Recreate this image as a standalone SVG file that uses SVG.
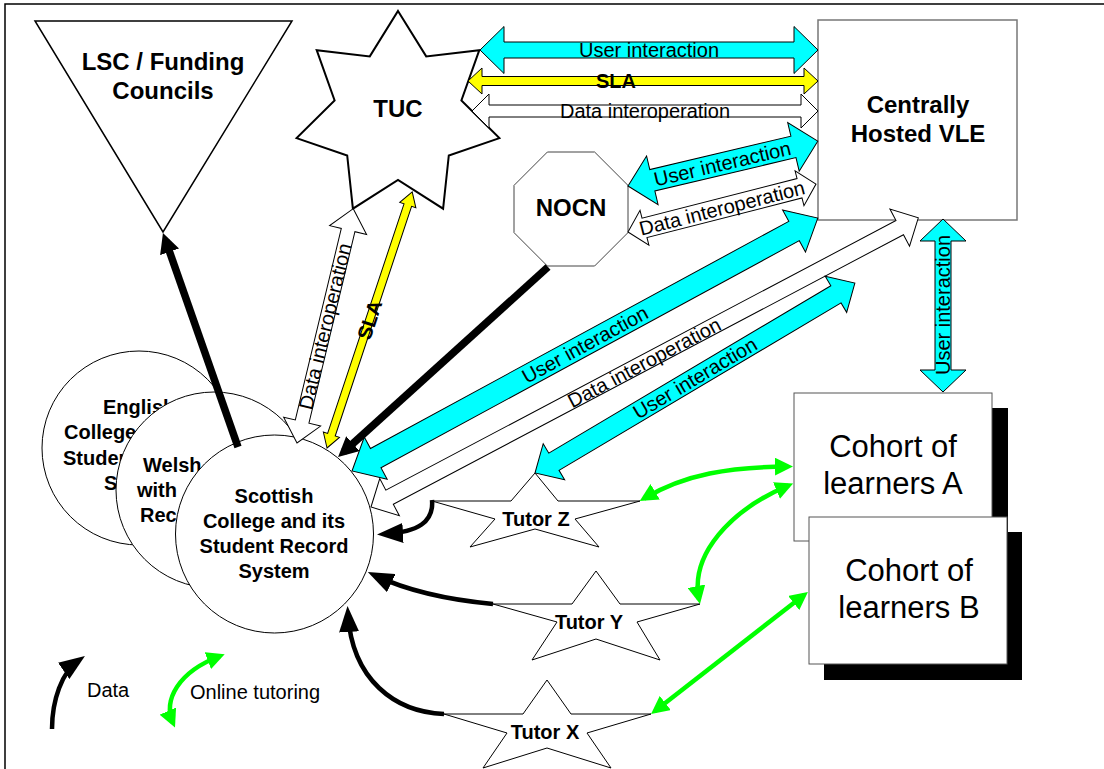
<svg xmlns="http://www.w3.org/2000/svg" width="1104" height="769" viewBox="0 0 1104 769">
<style>
text{font-family:"Liberation Sans",Arial,sans-serif;fill:#000}
.t24{font-size:24px;font-weight:bold}
.t20b{font-size:20px;font-weight:bold}
.t20{font-size:20px}
.t31{font-size:31px}
.node{fill:#fff;stroke:#000;stroke-width:1}
.cy{fill:#00ffff;stroke:#000;stroke-width:1}
.ye{fill:#ffff00;stroke:#000;stroke-width:1}
.wh{fill:#fff;stroke:#000;stroke-width:1}
.data{fill:none;stroke:#000;stroke-width:4.5}
.thick{fill:none;stroke:#000;stroke-width:7.5}
.grn{fill:none;stroke:#00ff00;stroke-width:4.5}
</style>
<defs>
<marker id="mBlk" markerUnits="userSpaceOnUse" markerWidth="20" markerHeight="20" viewBox="0 0 20 20" refX="12" refY="10" orient="auto"><path d="M0,0 L20,10 L0,20 z" fill="#000"/></marker>
<marker id="mData" markerUnits="userSpaceOnUse" markerWidth="26" markerHeight="20" viewBox="0 0 26 20" refX="18" refY="10" orient="auto"><path d="M0,0 L26,10 L0,20 z" fill="#000"/></marker>
<marker id="mGrn" markerUnits="userSpaceOnUse" markerWidth="18" markerHeight="18" viewBox="0 0 18 18" refX="13" refY="9" orient="auto-start-reverse"><path d="M0,0 L18,9 L0,18 z" fill="#00ff00"/></marker>
</defs>
<rect width="1104" height="769" fill="#fff"/>
<path d="M5,769 L5,4 L1104,4" fill="none" stroke="#000" stroke-width="1.5"/>

<g id="lsc">
<polygon points="35,21 292,21 163,232" fill="#fff" stroke="#000" stroke-width="1.5"/>
<text class="t24" x="163" y="70" text-anchor="middle">LSC / Funding</text>
<text class="t24" x="163" y="99" text-anchor="middle">Councils</text>
</g>

<g id="tuc">
<polygon points="398,11 426.2,56.4 479.3,50.2 461.4,100.5 499.4,138.1 448.8,155.5 443.1,208.7 398,180 352.9,208.7 347.2,155.5 296.6,138.1 334.6,100.5 316.7,50.2 369.8,56.4" fill="#fff" stroke="#000" stroke-width="2"/>
<text class="t24" x="398" y="117" text-anchor="middle">TUC</text>
</g>

<g id="vle">
<rect x="818" y="20" width="199" height="200" fill="#fff" stroke="#777" stroke-width="1.5"/>
<text class="t24" x="918" y="113" text-anchor="middle">Centrally</text>
<text class="t24" x="918" y="142" text-anchor="middle">Hosted VLE</text>
</g>

<g id="nocn">
<polygon points="547.4,152 594.6,152 628,185.4 628,232.6 594.6,266 547.4,266 514,232.6 514,185.4" fill="#fff" stroke="#444" stroke-width="1"/>
<text class="t24" x="571" y="216" text-anchor="middle">NOCN</text>
</g>

<g id="english">
<circle cx="139" cy="448" r="97" class="node"/>
<text class="t20b" x="103" y="414">English</text>
<text class="t20b" x="64" y="439">College</text>
<text class="t20b" x="63" y="465">Student</text>
<text class="t20b" x="104" y="490">S</text>
</g>

<g id="welsh">
<circle cx="214" cy="490" r="98" class="node"/>
<text class="t20b" x="143" y="472">Welsh</text>
<text class="t20b" x="137" y="497">with</text>
<text class="t20b" x="140" y="522">Rec</text>
</g>

<g id="scottish">
<circle cx="274.5" cy="534" r="99" class="node"/>
<text class="t20b" x="274" y="503" text-anchor="middle">Scottish</text>
<text class="t20b" x="274" y="528" text-anchor="middle">College and its</text>
<text class="t20b" x="274" y="553" text-anchor="middle">Student Record</text>
<text class="t20b" x="274" y="578" text-anchor="middle">System</text>
</g>

<g id="cohortA">
<rect x="809" y="408" width="199" height="148" fill="#000"/>
<rect x="794" y="393" width="198" height="148" fill="#fff" stroke="#555" stroke-width="1"/>
<text class="t31" x="893" y="457" text-anchor="middle">Cohort of</text>
<text class="t31" x="893" y="494" text-anchor="middle">learners A</text>
</g>

<g id="cohortB">
<rect x="824" y="532" width="198" height="148" fill="#000"/>
<rect x="809" y="517" width="198" height="147" fill="#fff" stroke="#555" stroke-width="1"/>
<text class="t31" x="909" y="581" text-anchor="middle">Cohort of</text>
<text class="t31" x="909" y="618" text-anchor="middle">learners B</text>
</g>

<g id="tutorZ">
<polygon points="535,473 558,501 640,501 575,519 599,547 535,529 470,547 495,519 432,501 511,501" class="node"/>
<text class="t20b" x="536" y="526" text-anchor="middle">Tutor Z</text>
</g>

<g id="tutorY">
<polygon points="596,571 620,604 700,604 637,622 660,660 596,639 532,660 557,622 493,604 572,604" class="node"/>
<text class="t20b" x="589" y="629" text-anchor="middle">Tutor Y</text>
</g>

<g id="tutorX">
<polygon points="547,680 571,714 651,714 587,733 611,768 547,748 483,768 507,733 444,714 523,714" class="node"/>
<text class="t20b" x="545" y="739" text-anchor="middle">Tutor X</text>
</g>

<g id="connectors">
<g transform="translate(480,50)">
<polygon class="cy" points="0,0 24,-23.5 24,-8 314,-8 314,-23.5 338,0 314,23.5 314,8 24,8 24,23.5"/>
<text class="t20" x="169" y="7" text-anchor="middle">User interaction</text>
</g>
<g transform="translate(468,81)">
<polygon class="ye" points="0,0 14,-13 14,-4.5 336,-4.5 336,-13 350,0 336,13 336,4.5 14,4.5 14,13"/>
<text class="t20b" x="148" y="7" text-anchor="middle">SLA</text>
</g>
<g transform="translate(472,111)">
<polygon class="wh" points="0,0 17,-17 17,-6 329,-6 329,-17 346,0 329,17 329,6 17,6 17,17"/>
<text class="t20" x="173" y="7" text-anchor="middle">Data interoperation</text>
</g>
<g transform="translate(628,186) rotate(-13.3)">
<polygon class="cy" points="0,0 25,-25 25,-11 170,-11 170,-25 195,0 170,25 170,11 25,11 25,25"/>
<text class="t20" x="97" y="7" text-anchor="middle">User interaction</text>
</g>
<g transform="translate(628,232) rotate(-14.3)">
<polygon class="wh" points="0,0 17,-18 17,-10 177,-10 177,-18 194,0 177,18 177,10 17,10 17,18"/>
<text class="t20" x="97" y="7" text-anchor="middle">Data interoperation</text>
</g>
<g transform="translate(352,471) rotate(-28.5)">
<polygon class="cy" points="0,0 27,-24 27,-11 503,-11 503,-24 530,0 503,24 503,11 27,11 27,24"/>
<text class="t20" x="265" y="7" text-anchor="middle">User interaction</text>
</g>
<g transform="translate(371,507) rotate(-27.85)">
<polygon class="wh" points="0,0 21,-21 21,-8 598,-8 598,-21 619,0 598,21 598,8 21,8 21,21"/>
<text class="t20" x="309" y="7" text-anchor="middle">Data interoperation</text>
</g>
<g transform="translate(535,473) rotate(-30.7)">
<polygon class="cy" points="0,0 22,-21 22,-10 350,-10 350,-21 372,0 350,21 350,10 22,10 22,21"/>
<text class="t20" x="186" y="7" text-anchor="middle">User interaction</text>
</g>
<g transform="translate(943,392) rotate(-90)">
<polygon class="cy" points="0,0 22,-23 22,-8 151,-8 151,-23 173,0 151,23 151,8 22,8 22,23"/>
<text class="t20" x="87" y="7" text-anchor="middle">User interaction</text>
</g>
<g transform="translate(297,443) rotate(-76.5)">
<polygon class="wh" points="0,0 22,-19 22,-7 219,-7 219,-19 241,0 219,19 219,7 22,7 22,19"/>
<text class="t20" x="120" y="7" text-anchor="middle">Data interoperation</text>
</g>
<g transform="translate(327,448) rotate(-71.6)">
<polygon class="ye" points="0,0 14,-8.5 14,-4 256,-4 256,-8.5 270,0 256,8.5 256,4 14,4 14,8.5"/>
<text class="t20b" x="135" y="7" text-anchor="middle">SLA</text>
</g>
<path class="thick" d="M548,267 L344,451.6" marker-end="url(#mBlk)"/>
<path class="thick" d="M238,447 L165.6,240.5" marker-end="url(#mBlk)"/>
<path class="data" d="M432,500 C434,522 418,532 385,534" marker-end="url(#mData)"/>
<path class="data" d="M493,604 C450,600 410,592 375,575.4" marker-end="url(#mData)"/>
<path class="data" d="M444,714 C395,712 352,680 348,614" marker-end="url(#mData)"/>
<path class="grn" d="M644,498.5 C685,474 730,467 788,466.5" marker-start="url(#mGrn)" marker-end="url(#mGrn)"/>
<path class="grn" d="M699,599 C690,555 730,510 788.5,485.5" marker-start="url(#mGrn)" marker-end="url(#mGrn)"/>
<path class="grn" d="M655,711 L804,595" marker-start="url(#mGrn)" marker-end="url(#mGrn)"/>
</g>

<g id="legend">
<path class="data" d="M52,729 C52,700 62,672 78.4,660.5" marker-end="url(#mData)"/>
<text class="t20" x="87" y="697">Data</text>
<path class="grn" d="M173,723 C163,700 178,672 220,656" marker-start="url(#mGrn)" marker-end="url(#mGrn)"/>
<text class="t20" x="190" y="699">Online tutoring</text>
</g>
</svg>
